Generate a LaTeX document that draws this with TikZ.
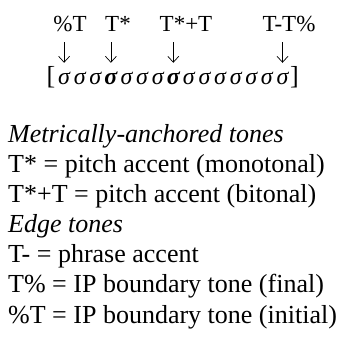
\documentclass[tikz,border=0pt]{standalone}
\usepackage{fontspec}
\setmainfont{Liberation Serif}
\usetikzlibrary{arrows.meta}

\tikzset{
  tone/.style={inner sep=0pt, anchor=base, text depth=0pt,
    font=\fontsize{23}{28}\selectfont},
  syl/.style={inner sep=0pt, anchor=base, text height=11pt, text depth=0pt,
    font=\fontsize{24}{28}\selectfont\itshape},
  strongsyl/.style={syl, font=\fontsize{24}{28}\selectfont\bfseries\itshape},
  brack/.style={inner sep=0pt, anchor=base, font=\fontsize{26}{30}\selectfont},
  legend/.style={inner sep=0pt, anchor=base west, font=\fontsize{26}{30}\selectfont},
  assoc/.style={-{Straight Barb[length=6pt,width=11pt]}, line width=0.7pt,
    shorten <=10pt, shorten >=11pt},
}

\begin{document}
\begin{tikzpicture}[x=1pt, y=1pt]
  \useasboundingbox (0,0) rectangle (344,339);

  % syllables
  \foreach \i in {1,2,3,5,6,7,9,10,...,15}
    \node[syl] (s\i) at (48.5+15.6*\i, 254) {σ};
  \node[strongsyl] (s4) at (48.5+15.6*4, 254) {σ};
  \node[strongsyl] (s8) at (48.5+15.6*8, 254) {σ};
  \node[brack] (lb) at (51, 254) {[};
  \node[brack] (rb) at (294.5, 254) {]};

  % tones
  \node[tone] (pctT) at (70, 307) {\%T};
  \node[tone] (Tstar) at (118, 307) {T*};
  \node[tone] (Tbi) at (186, 307) {T*+T};
  \node[tone] (Tedge) at (289, 307) {T-T\%};

  \draw[assoc] (pctT.south -| s1) -- (s1.north);
  \draw[assoc] (Tstar.south -| s4) -- (s4.north);
  \draw[assoc] (Tbi.south -| s8) -- (s8.north);
  \draw[assoc] (Tedge.south -| s15) -- (s15.north);

  % key
  \node[legend] (metr) at (8, 196) {\textit{Metrically-anchored tones}};
  \node[legend] (mono) at (8, 166) {T* = pitch accent (monotonal)};
  \node[legend] (bit) at (8, 136) {T*+T = pitch accent (bitonal)};
  \node[legend] (edge) at (8, 106) {\textit{Edge tones}};
  \node[legend] (phr) at (8, 76) {T- = phrase accent};
  \node[legend] (fin) at (8, 46) {T\% = IP boundary tone (final)};
  \node[legend] (ini) at (8, 16) {\%T = IP boundary tone (initial)};
\end{tikzpicture}
\end{document}
